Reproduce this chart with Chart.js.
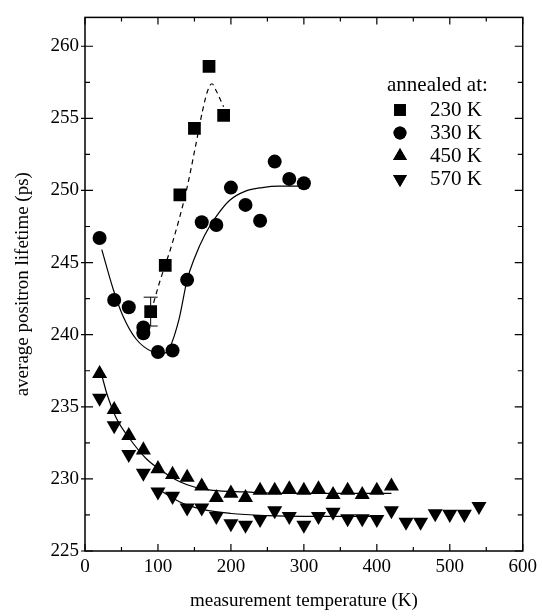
<!DOCTYPE html>
<html>
<head>
<meta charset="utf-8">
<script src="https://cdn.jsdelivr.net/npm/chart.js@4.4.0/dist/chart.umd.min.js"></script>
<style>
  html, body { margin: 0; padding: 0; background: #fff; }
</style>
</head>
<body>
<canvas id="chart" width="542" height="616"></canvas>
<script>
// axis ticks
const xTicks = [0, 100, 200, 300, 400, 500, 600];
const yTicks = [225, 230, 235, 240, 245, 250, 255, 260];

// annealed at 230 K (squares)
const t230 = [90, 110, 130, 150, 170, 190];
const v230 = [241.6, 244.8, 249.7, 254.3, 258.6, 255.2];
const err230 = [1.0, 0, 0, 0, 0, 0];

// annealed at 330 K (circles)
const t330 = [20, 40, 60, 80, 80, 100, 120, 140, 160, 180, 200, 220, 240, 260, 280, 300];
const v330 = [246.7, 242.4, 241.9, 240.5, 240.1, 238.8, 238.9, 243.8, 247.8, 247.6, 250.2, 249.0, 247.9, 252.0, 250.8, 250.5];

// annealed at 450 K (up triangles)
const t450 = [20, 40, 60, 80, 100, 120, 140, 160, 180, 200, 220, 240, 260, 280, 300, 320, 340, 360, 380, 400, 420];
const v450 = [237.3, 234.8, 233.0, 232.0, 230.7, 230.3, 230.1, 229.5, 228.7, 229.0, 228.7, 229.2, 229.2, 229.3, 229.2, 229.3, 228.9, 229.2, 228.9, 229.2, 229.5];

// annealed at 570 K (down triangles)
const t570 = [20, 40, 60, 80, 100, 120, 140, 160, 180, 200, 220, 240, 260, 280, 300, 320, 340, 360, 380, 400, 420, 440, 460, 480, 500, 520, 540];
const v570 = [235.6, 233.7, 231.7, 230.4, 229.1, 228.8, 228.0, 228.0, 227.4, 226.9, 226.8, 227.2, 227.8, 227.4, 226.8, 227.4, 227.7, 227.25, 227.25, 227.2, 227.8, 227.0, 227.0, 227.6, 227.55, 227.55, 228.1];

// guide-to-the-eye curves
const fit230T = [94, 102, 120, 139, 152, 161, 168, 174, 180, 190];
const fit230V = [242.2, 243.6, 246.4, 250.0, 253.2, 255.5, 256.9, 257.4, 256.9, 255.8];
const fit330T = [23, 39, 52, 70, 93, 107, 116, 129, 140, 150, 164, 180, 198, 220, 243, 266, 300];
const fit330V = [245.9, 243.1, 241.3, 239.7, 238.8, 238.7, 239.1, 241.1, 243.8, 245.3, 246.9, 248.2, 249.3, 249.95, 250.2, 250.3, 250.3];
const fit450T = [23, 30, 43, 61, 84, 107, 130, 152, 175, 220, 266, 330, 420];
const fit450V = [237.2, 235.9, 234.2, 232.8, 231.4, 230.5, 229.8, 229.4, 229.2, 229.1, 229.0, 229.0, 229.0];
const fit570T = [100, 130, 160, 200, 250, 300, 350, 400];
const fit570V = [229.3, 228.4, 227.9, 227.6, 227.45, 227.4, 227.4, 227.4];

const legendLabels = ['230 K', '330 K', '450 K', '570 K'];

const pts = (xs, ys) => xs.map((x, i) => ({x: x, y: ys[i]}));
const FONT = "'Liberation Serif', 'DejaVu Serif', serif";

const marker = (label, data, style, radius, rotation) => ({
  label: label, data: data, showLine: false,
  pointStyle: style, pointRadius: radius, pointHoverRadius: radius,
  rotation: rotation || 0,
  backgroundColor: '#000', borderColor: '#000', borderWidth: 0, order: 0
});
const curve = (data, dash) => ({
  data: data, showLine: true, pointRadius: 0, pointHoverRadius: 0,
  borderColor: '#000', borderWidth: 1.2, borderDash: dash || [],
  cubicInterpolationMode: 'monotone', fill: false, order: 1
});

const styles = [
  {pointStyle: 'rect', radius: 9, rotation: 0},
  {pointStyle: 'circle', radius: 7, rotation: 0},
  {pointStyle: 'triangle', radius: 8.7, rotation: 0},
  {pointStyle: 'triangle', radius: 8.7, rotation: 180}
];

// frame, inward ticks, error bar and legend
const decor = {
  id: 'decor',
  beforeDatasetsDraw(chart) {
    const {ctx, scales: {x, y}} = chart;
    ctx.save();
    ctx.strokeStyle = '#000';
    ctx.lineWidth = 1;
    t230.forEach((t, i) => {
      if (!err230[i]) return;
      const px = x.getPixelForValue(t);
      const top = y.getPixelForValue(v230[i] + err230[i]);
      const bot = y.getPixelForValue(v230[i] - err230[i]);
      ctx.beginPath();
      ctx.moveTo(px, top); ctx.lineTo(px, bot);
      ctx.moveTo(px - 7, top); ctx.lineTo(px + 7, top);
      ctx.moveTo(px - 7, bot); ctx.lineTo(px + 7, bot);
      ctx.stroke();
    });
    ctx.restore();
  },
  afterDatasetsDraw(chart) {
    const {ctx, chartArea: a, scales: {x, y}} = chart;
    ctx.save();
    ctx.strokeStyle = '#000';
    ctx.lineWidth = 1.5;
    ctx.strokeRect(a.left, a.top, a.right - a.left, a.bottom - a.top);
    ctx.lineWidth = 1.2;
    ctx.beginPath();
    for (let i = 0; i < xTicks.length; i++) {
      const px = x.getPixelForValue(xTicks[i]);
      ctx.moveTo(px, a.bottom); ctx.lineTo(px, a.bottom - 7);
      ctx.moveTo(px, a.top); ctx.lineTo(px, a.top + 7);
      if (i < xTicks.length - 1) {
        const pm = x.getPixelForValue((xTicks[i] + xTicks[i + 1]) / 2);
        ctx.moveTo(pm, a.bottom); ctx.lineTo(pm, a.bottom - 4);
        ctx.moveTo(pm, a.top); ctx.lineTo(pm, a.top + 4);
      }
    }
    for (let i = 0; i < yTicks.length; i++) {
      const py = y.getPixelForValue(yTicks[i]);
      ctx.moveTo(a.left - 4, py); ctx.lineTo(a.left + 8, py);
      ctx.moveTo(a.right, py); ctx.lineTo(a.right - 8, py);
      const mid = yTicks[i] + 2.5;
      if (mid < y.max) {
        const pm = y.getPixelForValue(mid);
        ctx.moveTo(a.left, pm); ctx.lineTo(a.left + 5, pm);
        ctx.moveTo(a.right, pm); ctx.lineTo(a.right - 5, pm);
      }
    }
    ctx.stroke();

    // legend
    ctx.fillStyle = '#000';
    ctx.font = '21px ' + FONT;
    ctx.textBaseline = 'middle';
    ctx.textAlign = 'left';
    ctx.fillText('annealed at:', 387, 85);
    legendLabels.forEach((lab, i) => {
      const ly = 110 + i * 23;
      const s = styles[i];
      Chart.helpers.drawPoint(ctx, {pointStyle: s.pointStyle, radius: s.radius * 0.92, rotation: s.rotation, borderWidth: 0}, 400, ly);
      ctx.fill();
      ctx.fillText(lab, 430, ly);
    });
    ctx.restore();
  }
};

new Chart(document.getElementById('chart'), {
  type: 'scatter',
  data: {
    datasets: [
      curve(pts(fit230T, fit230V), [5, 4]),
      curve(pts(fit330T, fit330V)),
      curve(pts(fit450T, fit450V)),
      curve(pts(fit570T, fit570V)),
      marker(legendLabels[0], pts(t230, v230), 'rect', 9),
      marker(legendLabels[1], pts(t330, v330), 'circle', 7),
      marker(legendLabels[2], pts(t450, v450), 'triangle', 8.7),
      marker(legendLabels[3], pts(t570, v570), 'triangle', 8.7, 180)
    ]
  },
  options: {
    responsive: false,
    animation: false,
    events: [],
    layout: {padding: {top: 14, right: 18, left: 0, bottom: 0}},
    plugins: {legend: {display: false}, tooltip: {enabled: false}},
    scales: {
      x: {
        type: 'linear', min: 0, max: 600,
        afterBuildTicks: s => { s.ticks = xTicks.map(v => ({value: v})); },
        afterFit: s => { s.height = 65; },
        grid: {display: false, drawTicks: false},
        border: {display: false},
        ticks: {color: '#000', padding: 5, font: {family: FONT, size: 19}},
        title: {display: true, text: 'measurement temperature (K)', color: '#000',
                font: {family: FONT, size: 19}, padding: {top: 0, bottom: 4}}
      },
      y: {
        type: 'linear', min: 225, max: 262,
        afterBuildTicks: s => { s.ticks = yTicks.map(v => ({value: v})); },
        afterFit: s => { s.width = 85; },
        grid: {display: false, drawTicks: false},
        border: {display: false},
        ticks: {color: '#000', padding: 6, font: {family: FONT, size: 19}},
        title: {display: true, text: 'average positron lifetime (ps)', color: '#000',
                font: {family: FONT, size: 19}, padding: {top: 12, bottom: 0}}
      }
    }
  },
  plugins: [decor]
});
</script>
</body>
</html>
